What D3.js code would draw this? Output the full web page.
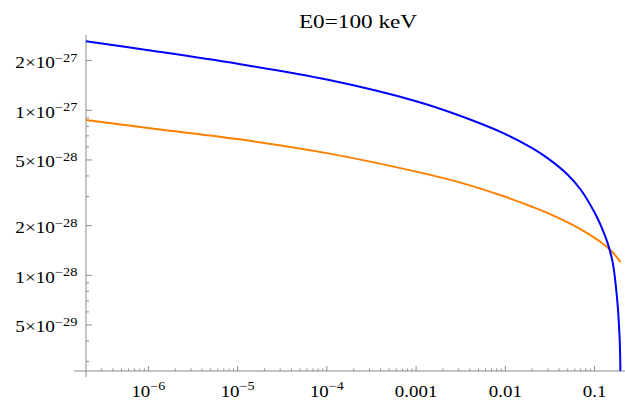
<!DOCTYPE html>
<html>
<head>
<meta charset="utf-8">
<script src="https://cdn.jsdelivr.net/npm/d3@7"></script>
<style>
  body { margin: 0; background: #fff; }
  svg { display: block; }
  text { font-family: "Liberation Serif", "DejaVu Serif", serif; fill: #000; }
</style>
</head>
<body>
<svg id="chart" width="625" height="400"></svg>
<script>
// Photon energy (in units of m c^2) and the two spectra
const blueEnergy = [2e-7, 1e-6, 1e-5, 1e-4, 1e-3, 3e-3, 1e-2, 0.02, 0.03, 0.05, 0.07, 0.1, 0.12, 0.14, 0.16, 0.18, 0.19, 0.194, 0.1955];
const blueValues = [2.618e-27, 2.312e-27, 1.914e-27, 1.535e-27, 1.135e-27, 9.33e-28, 7.18e-28, 5.9e-28, 5.11e-28, 4.07e-28, 3.3e-28, 2.4e-28, 1.95e-28, 1.567e-28, 1.189e-28, 6.92e-29, 4.37e-29, 3.0e-29, 1.2e-29];

const orangeEnergy = [2e-7, 1e-6, 1e-5, 1e-4, 1e-3, 3e-3, 1e-2, 0.02, 0.03, 0.05, 0.07, 0.1, 0.12, 0.14, 0.16, 0.18, 0.19, 0.1957];
const orangeValues = [8.73e-28, 7.82e-28, 6.69e-28, 5.5e-28, 4.25e-28, 3.67e-28, 2.99e-28, 2.6e-28, 2.38e-28, 2.09e-28, 1.896e-28, 1.685e-28, 1.576e-28, 1.475e-28, 1.375e-28, 1.275e-28, 1.228e-28, 1.2e-28];

// Axis ticks
const xMajorTicks = [1e-6, 1e-5, 1e-4, 1e-3, 1e-2, 1e-1];
const xMajorBase = ["10", "10", "10", "0.001", "0.01", "0.1"];
const xMajorExp = ["\u22126", "\u22125", "\u22124", "", "", ""];

const yMajorTicks = [5e-29, 1e-28, 2e-28, 5e-28, 1e-27, 2e-27];
const yMantissa = ["5", "1", "2", "5", "1", "2"];
const yExponent = ["\u221229", "\u221228", "\u221228", "\u221228", "\u221227", "\u221227"];

const title = "E0=100 keV";

const svg = d3.select("#chart");
const x = d3.scaleLog().domain([2e-7, 0.1957]).range([86, 620.6]);
const y = d3.scaleLog().domain([2.63e-29, 2.86e-27]).range([371, 35]);

const axisColor = "#8c8c8c";
const sx = 1.18; // horizontal stretch of the label glyphs

// minor ticks: 2..9 times each power of ten inside the domain
function minorTicks(scale) {
  const [a, b] = scale.domain();
  const out = [];
  for (let e = Math.floor(Math.log10(a)); e <= Math.ceil(Math.log10(b)); e++) {
    for (let k = 2; k <= 9; k++) {
      const v = k * Math.pow(10, e);
      if (v > a * 1.0001 && v <= b) out.push(v);
    }
  }
  return out;
}

const axes = svg.append("g");
// axis lines
axes.append("line").attr("x1", 74).attr("x2", 625).attr("y1", y.range()[0]).attr("y2", y.range()[0])
  .attr("stroke", axisColor).attr("stroke-width", 1);
axes.append("line").attr("x1", x.range()[0]).attr("x2", x.range()[0]).attr("y1", 35).attr("y2", 377)
  .attr("stroke", axisColor).attr("stroke-width", 1);

// x ticks
const x0 = y.range()[0];
axes.selectAll(".xminor").data(minorTicks(x).filter(v => !xMajorTicks.some(t => Math.abs(t - v) / t < 1e-6))).join("line")
  .attr("x1", d => x(d)).attr("x2", d => x(d)).attr("y1", x0).attr("y2", x0 - 2.5)
  .attr("stroke", axisColor);
axes.selectAll(".xmajor").data(xMajorTicks).join("line")
  .attr("x1", d => x(d)).attr("x2", d => x(d)).attr("y1", x0).attr("y2", x0 - 5)
  .attr("stroke", axisColor);

// y ticks
const y0 = x.range()[0];
axes.selectAll(".yminor").data(minorTicks(y).filter(v => !yMajorTicks.some(t => Math.abs(t - v) / t < 1e-6))).join("line")
  .attr("x1", y0).attr("x2", y0 + 3).attr("y1", d => y(d)).attr("y2", d => y(d))
  .attr("stroke", axisColor);
axes.selectAll(".ymajor").data(yMajorTicks).join("line")
  .attr("x1", y0).attr("x2", y0 + 6).attr("y1", d => y(d)).attr("y2", d => y(d))
  .attr("stroke", axisColor);

// x tick labels
xMajorTicks.forEach((t, i) => {
  const g = svg.append("g").attr("transform", `translate(${x(t)},396.5) scale(${sx},1)`);
  const txt = g.append("text").attr("text-anchor", "middle").attr("font-size", 16);
  txt.append("tspan").text(xMajorBase[i]);
  if (xMajorExp[i]) txt.append("tspan").attr("font-size", 12).attr("dy", -6.5).text(xMajorExp[i]);
});

// y tick labels
yMajorTicks.forEach((t, i) => {
  const g = svg.append("g").attr("transform", `translate(77.5,${y(t) + 7.5}) scale(1.2,1)`);
  const txt = g.append("text").attr("text-anchor", "end").attr("font-size", 16);
  txt.append("tspan").text(yMantissa[i] + "\u00d710");
  txt.append("tspan").attr("font-size", 12).attr("dy", -6.5).text(yExponent[i]);
});

// title
svg.append("g").attr("transform", `translate(358,27.5) scale(1.29,1)`)
  .append("text").attr("text-anchor", "middle").attr("font-size", 18).text(title);

// curves
svg.append("clipPath").attr("id", "plotArea").append("rect")
  .attr("x", 80).attr("y", 30).attr("width", 545).attr("height", 341);

const line = d3.line().x(d => x(d[0])).y(d => y(d[1])).curve(d3.curveCatmullRom.alpha(0.5));
const plot = svg.append("g").attr("clip-path", "url(#plotArea)");
plot.append("path").datum(orangeEnergy.map((e, i) => [e, orangeValues[i]]))
  .attr("d", line).attr("fill", "none").attr("stroke", "#ff8000").attr("stroke-width", 2);
plot.append("path").datum(blueEnergy.map((e, i) => [e, blueValues[i]]))
  .attr("d", line).attr("fill", "none").attr("stroke", "#0000ff").attr("stroke-width", 2);
</script>
</body>
</html>
